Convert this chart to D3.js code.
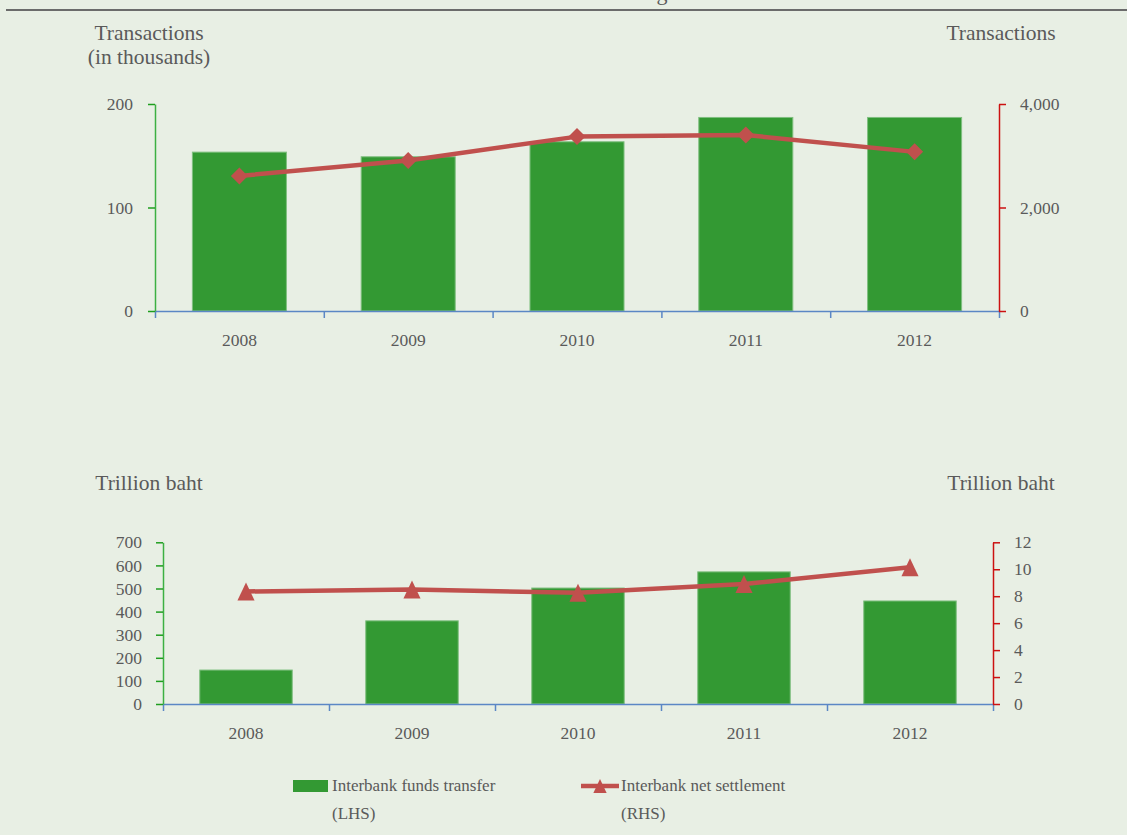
<!DOCTYPE html>
<html>
<head>
<meta charset="utf-8">
<script src="https://cdn.jsdelivr.net/npm/d3@7"></script>
<style>
  html, body { margin: 0; padding: 0; background: #e8efe4; }
  svg { display: block; }
  text { font-family: "Liberation Serif", "Times New Roman", serif; fill: #5a5a5a; }
</style>
</head>
<body>
<svg id="chart" width="1127" height="835"></svg>
<script>
// Categories and series
const years = ["2008", "2009", "2010", "2011", "2012"];
// Volume (top panel)
const transferVolume = [153.5, 149, 163.5, 187, 187];        // thousands of transactions (LHS)
const settlementVolume = [2610, 2910, 3370, 3400, 3075];      // transactions (RHS)
// Value (bottom panel)
const transferValue = [147, 360, 502, 572, 446];              // trillion baht (LHS)
const settlementValue = [8.35, 8.5, 8.25, 8.9, 10.15];        // trillion baht (RHS)
// Axis ticks
const volLeftTicks = [0, 100, 200];
const volRightTicks = [0, 2000, 4000];
const valLeftTicks = [0, 100, 200, 300, 400, 500, 600, 700];
const valRightTicks = [0, 2, 4, 6, 8, 10, 12];

const COL = {
  bar: "#339933",
  barEdge: "#7fbf7f",
  line: "#c0504d",
  leftAxis: "#3cb043",
  leftTick: "#1f9e1f",
  rightAxis: "#cc1111",
  xAxis: "#5b87c5",
  text: "#5a5a5a"
};

const svg = d3.select("#chart");

// Header rule with the descender of the heading above it
svg.append("text").attr("x", 662).attr("y", 0).attr("text-anchor", "middle")
  .style("font-size", "22px").text("g");
svg.append("line").attr("x1", 6).attr("x2", 1127).attr("y1", 10).attr("y2", 10)
  .attr("stroke", "#6b6b6b").attr("stroke-width", 2);

// Diamond and triangle marker shapes
const diamond = { draw(ctx, size) { const r = Math.sqrt(size) / 2;
  ctx.moveTo(0, -r); ctx.lineTo(r, 0); ctx.lineTo(0, r); ctx.lineTo(-r, 0); ctx.closePath(); } };
const triangle = { draw(ctx, size) { const h = Math.sqrt(size) / 2;
  ctx.moveTo(0, -h); ctx.lineTo(h * 0.95, h); ctx.lineTo(-h * 0.95, h); ctx.closePath(); } };

function panel(cfg) {
  const g = svg.append("g");
  const x = d3.scaleBand().domain(years).range([cfg.x0, cfg.x1])
    .paddingInner(0.443).paddingOuter(0.2215);
  const xb = d3.scaleLinear().domain([0, years.length]).range([cfg.x0, cfg.x1]);
  const yL = d3.scaleLinear().domain(cfg.leftDomain).range([cfg.y0, cfg.y1]);
  const yR = d3.scaleLinear().domain(cfg.rightDomain).range([cfg.y0, cfg.y1]);

  // bars
  g.selectAll("rect.bar").data(cfg.bars).join("rect").attr("class", "bar")
    .attr("x", (d, i) => x(years[i]))
    .attr("width", x.bandwidth())
    .attr("y", d => yL(d))
    .attr("height", d => cfg.y0 - yL(d))
    .attr("fill", COL.bar)
    .attr("stroke", COL.barEdge).attr("stroke-width", 1);

  // x axis: boundary ticks
  const xAxisG = g.append("g").attr("transform", `translate(0,${cfg.y0})`)
    .call(d3.axisBottom(xb).tickValues(d3.range(years.length + 1)).tickFormat("")
      .tickSize(7).tickSizeOuter(0));
  xAxisG.select(".domain").attr("stroke", COL.xAxis).attr("stroke-width", 1.5);
  xAxisG.selectAll(".tick line").attr("stroke", COL.xAxis).attr("stroke-width", 1.5);

  // x category labels
  const xl = g.append("g").attr("transform", `translate(0,${cfg.y0})`)
    .call(d3.axisBottom(x).tickSize(0).tickPadding(cfg.labelPad));
  xl.select(".domain").remove();
  xl.selectAll("text").style("font-size", "17.5px").attr("fill", COL.text)
    .style("font-family", "Liberation Serif");

  // left axis
  const la = g.append("g").attr("transform", `translate(${cfg.x0},0)`)
    .call(d3.axisLeft(yL).tickValues(cfg.leftTicks).tickSize(7).tickSizeOuter(0)
      .tickPadding(cfg.leftPad).tickFormat(d3.format(",")));
  la.select(".domain").attr("stroke", COL.leftAxis).attr("stroke-width", 1.5);
  la.selectAll(".tick line").attr("stroke", COL.leftTick).attr("stroke-width", 1.5);
  la.selectAll("text").style("font-size", "17.5px").attr("fill", COL.text)
    .style("font-family", "Liberation Serif");

  // right axis
  const ra = g.append("g").attr("transform", `translate(${cfg.x1},0)`)
    .call(d3.axisRight(yR).tickValues(cfg.rightTicks).tickSize(7).tickSizeOuter(0)
      .tickPadding(cfg.rightPad).tickFormat(d3.format(",")));
  ra.select(".domain").attr("stroke", COL.rightAxis).attr("stroke-width", 1.5);
  ra.selectAll(".tick line").attr("stroke", COL.rightAxis).attr("stroke-width", 1.5);
  ra.selectAll("text").style("font-size", "17.5px").attr("fill", COL.text)
    .style("font-family", "Liberation Serif");

  // line series
  const cx = (d, i) => x(years[i]) + x.bandwidth() / 2;
  g.append("path").datum(cfg.line)
    .attr("d", d3.line().x(cx).y(d => yR(d)))
    .attr("fill", "none").attr("stroke", COL.line).attr("stroke-width", 4.5)
    .attr("stroke-linejoin", "round");
  g.selectAll("path.marker").data(cfg.line).join("path").attr("class", "marker")
    .attr("transform", (d, i) => `translate(${cx(d, i)},${yR(d)})`)
    .attr("d", d3.symbol().type(cfg.marker).size(cfg.markerSize))
    .attr("fill", COL.line);

  // axis titles
  cfg.leftTitle.forEach((t, i) => {
    g.append("text").attr("x", 149).attr("y", cfg.titleY + i * 24)
      .attr("text-anchor", "middle").style("font-size", "21.5px").text(t);
  });
  g.append("text").attr("x", 1001).attr("y", cfg.titleY)
    .attr("text-anchor", "middle").style("font-size", "21.5px").text(cfg.rightTitle);
}

panel({
  x0: 155, x1: 999, y0: 311, y1: 104,
  leftDomain: [0, 200], rightDomain: [0, 4000],
  leftTicks: volLeftTicks, rightTicks: volRightTicks,
  bars: transferVolume, line: settlementVolume,
  marker: diamond, markerSize: 289,
  leftPad: 15, rightPad: 14, labelPad: 23,
  leftTitle: ["Transactions", "(in thousands)"], rightTitle: "Transactions", titleY: 40
});

panel({
  x0: 163, x1: 993, y0: 704, y1: 542.3,
  leftDomain: [0, 700], rightDomain: [0, 12],
  leftTicks: valLeftTicks, rightTicks: valRightTicks,
  bars: transferValue, line: settlementValue,
  marker: triangle, markerSize: 324,
  leftPad: 14, rightPad: 14, labelPad: 23,
  leftTitle: ["Trillion baht"], rightTitle: "Trillion baht", titleY: 490
});

// Legend
const lg = svg.append("g");
lg.append("rect").attr("x", 293).attr("y", 780).attr("width", 35).attr("height", 12)
  .attr("fill", COL.bar);
lg.append("text").attr("x", 332).attr("y", 791).style("font-size", "17px").text("Interbank funds transfer");
lg.append("text").attr("x", 332).attr("y", 819).style("font-size", "17px").text("(LHS)");
lg.append("line").attr("x1", 581).attr("x2", 619).attr("y1", 786).attr("y2", 786)
  .attr("stroke", COL.line).attr("stroke-width", 4.5);
lg.append("path").attr("transform", "translate(600,786)")
  .attr("d", d3.symbol().type(triangle).size(196)).attr("fill", COL.line);
lg.append("text").attr("x", 621).attr("y", 791).style("font-size", "17px").text("Interbank net settlement");
lg.append("text").attr("x", 621).attr("y", 819).style("font-size", "17px").text("(RHS)");
</script>
</body>
</html>
